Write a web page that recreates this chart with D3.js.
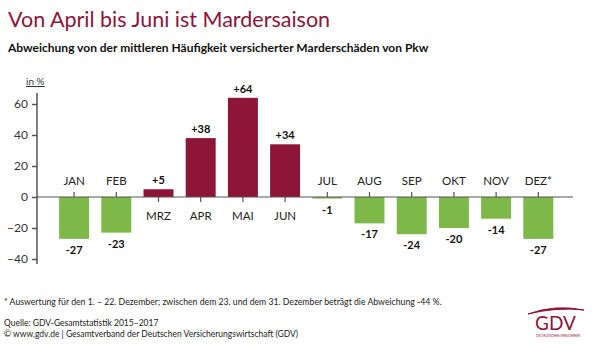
<!DOCTYPE html>
<html>
<head>
<meta charset="utf-8">
<script src="https://cdn.jsdelivr.net/npm/d3@7"></script>
<style>
  body { margin: 0; background: #fff; }
  text { font-family: Lato, "Noto Sans", sans-serif; }
</style>
</head>
<body>
<div id="chart"></div>
<script>
var months = ["JAN", "FEB", "MRZ", "APR", "MAI", "JUN", "JUL", "AUG", "SEP", "OKT", "NOV", "DEZ*"];
var values = [-27, -23, 5, 38, 64, 34, -1, -17, -24, -20, -14, -27];
var yTicks = [-40, -20, 0, 20, 40, 60];

var width = 600, height = 352;
var red = "#8c1538", green = "#7db848";

var svg = d3.select("#chart").append("svg")
    .attr("width", width)
    .attr("height", height);

// titles
svg.append("text")
    .attr("x", 8).attr("y", 27)
    .attr("fill", red)
    .style("font-size", "21.5px")
    .text("Von April bis Juni ist Mardersaison");

svg.append("text")
    .attr("x", 8).attr("y", 52)
    .attr("fill", "#111")
    .style("font-size", "12px")
    .style("font-weight", "bold")
    .text("Abweichung von der mittleren Häufigkeit versicherter Marderschäden von Pkw");

var x = d3.scaleBand()
    .domain(months)
    .range([53, 559.4])
    .paddingInner(0.29)
    .paddingOuter(0.145);

var y = d3.scaleLinear()
    .domain([-40, 60])
    .range([259, 104]);

// y axis
var yAxis = d3.axisLeft(y)
    .tickValues(yTicks)
    .tickSize(5)
    .tickPadding(4);

var gy = svg.append("g")
    .attr("transform", "translate(37,0)")
    .call(yAxis);
gy.select(".domain").remove();
gy.selectAll(".tick line").attr("stroke", "#555").attr("stroke-width", 1.5);
gy.selectAll(".tick text")
    .attr("fill", "#333")
    .style("font-size", "12px")
    .style("font-family", "Lato, 'Noto Sans', sans-serif");

svg.append("line")
    .attr("x1", 37).attr("x2", 37)
    .attr("y1", 93).attr("y2", 264)
    .attr("stroke", "#555").attr("stroke-width", 1.5);

svg.append("text")
    .attr("x", 26).attr("y", 85)
    .attr("fill", "#333")
    .style("font-size", "10px")
    .style("text-decoration", "underline")
    .text("in %");

// bars
svg.selectAll(".bar")
    .data(values)
    .enter().append("rect")
    .attr("class", "bar")
    .attr("x", function(d, i) { return x(months[i]); })
    .attr("width", x.bandwidth())
    .attr("y", function(d) { return y(Math.max(0, d)); })
    .attr("height", function(d) { return Math.abs(y(d) - y(0)); })
    .attr("fill", function(d) { return d > 0 ? red : green; });

// zero line
svg.append("line")
    .attr("x1", 37).attr("x2", 573)
    .attr("y1", y(0)).attr("y2", y(0))
    .attr("stroke", "#555").attr("stroke-width", 1.2);

// month ticks
svg.selectAll(".mtick")
    .data(values)
    .enter().append("line")
    .attr("class", "mtick")
    .attr("x1", function(d, i) { return x(months[i]) + x.bandwidth() / 2; })
    .attr("x2", function(d, i) { return x(months[i]) + x.bandwidth() / 2; })
    .attr("y1", y(0))
    .attr("y2", function(d) { return d > 0 ? y(0) + 5 : y(0) - 5; })
    .attr("stroke", "#555").attr("stroke-width", 1.2);

// month labels
svg.selectAll(".mlabel")
    .data(values)
    .enter().append("text")
    .attr("class", "mlabel")
    .attr("text-anchor", "middle")
    .attr("x", function(d, i) { return x(months[i]) + x.bandwidth() / 2; })
    .attr("y", function(d) { return d > 0 ? y(0) + 23 : y(0) - 12; })
    .attr("fill", "#222")
    .style("font-size", "11.5px")
    .text(function(d, i) { return months[i]; });

// value labels
svg.selectAll(".vlabel")
    .data(values)
    .enter().append("text")
    .attr("class", "vlabel")
    .attr("text-anchor", "middle")
    .attr("x", function(d, i) { return x(months[i]) + x.bandwidth() / 2; })
    .attr("y", function(d) { return d > 0 ? y(d) - 5 : y(d) + 15; })
    .attr("fill", "#111")
    .style("font-size", "11px")
    .style("font-weight", "bold")
    .text(function(d) { return d > 0 ? "+" + d : "-" + Math.abs(d); });

// footnotes
svg.append("text")
    .attr("x", 4).attr("y", 305)
    .attr("fill", "#222")
    .style("font-size", "8.7px")
    .text("*  Auswertung für den 1. – 22. Dezember; zwischen dem 23. und dem 31. Dezember beträgt die Abweichung -44 %.");

svg.append("text")
    .attr("x", 4).attr("y", 326)
    .attr("fill", "#222")
    .style("font-size", "8.5px")
    .text("Quelle: GDV-Gesamtstatistik 2015–2017");

svg.append("text")
    .attr("x", 4).attr("y", 337)
    .attr("fill", "#222")
    .style("font-size", "8.5px")
    .text("© www.gdv.de | Gesamtverband der Deutschen Versicherungswirtschaft (GDV)");

// logo
var logo = svg.append("g");
logo.append("path")
    .attr("d", "M528,314 Q555,304 584,310 Q556,307 528,314 Z")
    .attr("fill", red).attr("stroke", red).attr("stroke-width", 1);
logo.append("text")
    .attr("x", 535).attr("y", 330)
    .attr("fill", red)
    .style("font-size", "19px")
    .text("GDV");
logo.append("text")
    .attr("x", 536).attr("y", 337)
    .attr("fill", red)
    .style("font-size", "3px")
    .text("DIE DEUTSCHEN VERSICHERER");
</script>
</body>
</html>
